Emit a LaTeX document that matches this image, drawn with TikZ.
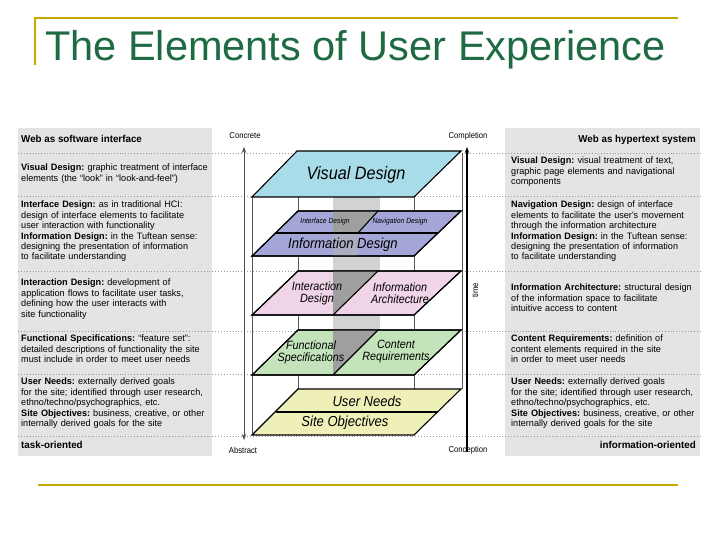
\documentclass[tikz,border=0pt]{standalone}
\usepackage{fontspec}
\setmainfont{Liberation Sans}
\newfontfamily\nar[FakeStretch=0.9]{Liberation Sans}
\newfontfamily\sidefont[FakeStretch=0.98]{Liberation Sans}
\usetikzlibrary{arrows.meta}
\frenchspacing
\definecolor{gold}{HTML}{C9A800}
\definecolor{ttl}{HTML}{1E6B43}
\definecolor{panel}{HTML}{E4E4E4}
\definecolor{vis}{HTML}{A8DCE8}
\definecolor{pur}{HTML}{A3A6D6}
\definecolor{pnk}{HTML}{F0D4E8}
\definecolor{grn}{HTML}{C3E4BA}
\definecolor{yel}{HTML}{EEF0B8}
\tikzset{
 side/.style={anchor=north west,inner sep=0pt,text width=195pt,align=left,font=\sidefont\fontsize{9.3}{10.4}\selectfont},
 plane/.style={draw=black,line width=1.1pt,line join=miter},
 lbl/.style={font=\nar\itshape\fontsize{#1}{#1}\selectfont,align=center,inner sep=0pt},
 dots/.style={draw=gray!80,dotted,line width=0.9pt},
 axis/.style={font=\nar\fontsize{8.5}{8.5}\selectfont,inner sep=0pt},
 frame/.style={draw=gray!70!black,line width=0.7pt},
 dark/.style={fill=gray!75},
 hdr/.style={inner sep=0pt,font=\sidefont\bfseries\fontsize{10}{10}\selectfont}
}
\begin{document}
\begin{tikzpicture}[x=1pt,y=-1pt]
\useasboundingbox (0,0) rectangle (720,540);
\fill[white] (0,0) rectangle (720,540);
% title and gold rules
\draw[gold,line width=2pt] (35,65) -- (35,18) -- (678,18);
\draw[gold,line width=2pt] (38,485) -- (678,485);
\node[anchor=west,inner sep=0pt,text=ttl,font=\fontsize{41.5}{41.5}\selectfont] (title) at (45,50) {The Elements of User Experience};
% panels
\fill[panel] (18,128) rectangle (212,456);
\fill[panel] (505,128) rectangle (700,456);
\foreach \y in {153,196,271,331,374,436} \draw[dots] (18,\y) -- (700,\y);
% grey band
\fill[gray!35] (333,196) rectangle (380,331);
% frame lines
\draw[frame] (298,153) -- (298,389);
\draw[frame] (462,153) -- (462,389);
\draw[frame] (252,196) -- (252,435);
\draw[frame] (414,196) -- (414,435);
% axes
\draw[gray!60!black,line width=0.8pt,{Stealth[length=6pt]}-{Stealth[length=6pt]}] (244,147) -- (244,440);
\draw[black,line width=1.2pt,-{Stealth[length=6pt]}] (467,452) -- (467,147);
\node[axis] (concrete) at (245,136) {Concrete};
\node[axis] (abstract) at (243,450) {Abstract};
\node[axis] (completion) at (468,136) {Completion};
\node[axis] (conception) at (468,450) {Conception};
\node[axis,rotate=90] (time) at (475,290) {time};
% visual design
\draw[plane,fill=vis] (252,197) -- (414,197) -- (461,151) -- (297,151) -- cycle;
\node[lbl=18] (vd) at (356,175) {Visual Design};
% purple
\draw[plane,fill=pur] (252,256) -- (414,256) -- (461,211) -- (298,211) -- cycle;
\fill[dark] (333,211) -- (378,211) -- (358,233) -- (333,233) -- cycle;
\fill[gray!60,opacity=0.6] (333,233) -- (358,233) -- (358,256) -- (333,256) -- cycle;
\draw[plane] (252,256) -- (414,256) -- (461,211) -- (298,211) -- cycle;
\draw[plane] (276,233) -- (438,233);
\draw[plane] (378,211) -- (358,233);
\node[lbl=7.5] (ifd) at (325,222) {Interface Design};
\node[lbl=7.5] (nvd) at (400,222) {Navigation Design};
\node[lbl=14.5] (infd) at (343,245) {Information Design};
% pink
\draw[plane,fill=pnk] (252,315) -- (414,315) -- (461,271) -- (298,271) -- cycle;
\fill[dark] (333,271) -- (378,271) -- (333,315) -- cycle;
\draw[plane] (252,315) -- (414,315) -- (461,271) -- (298,271) -- cycle;
\draw[plane] (378,271) -- (333,315);
\node[lbl=12] (ixd) at (317,293) {Interaction\\Design};
\node[lbl=12] (ia) at (400,293) {Information\\Architecture};
% green
\draw[plane,fill=grn] (252,375) -- (414,375) -- (461,330) -- (298,330) -- cycle;
\fill[dark] (333,330) -- (378,330) -- (333,375) -- cycle;
\draw[plane] (252,375) -- (414,375) -- (461,330) -- (298,330) -- cycle;
\draw[plane] (378,330) -- (333,375);
\node[lbl=12] (fs) at (311,352) {Functional\\Specifications};
\node[lbl=12] (cr) at (396,352) {Content\\Requirements};
% yellow
\draw[plane,fill=yel] (252,435) -- (414,435) -- (461,389) -- (298,389) -- cycle;
\draw[plane] (276,412) -- (438,412);
\node[lbl=14.5] (un) at (367,401) {User Needs};
\node[lbl=14.5] (so) at (345,423) {Site Objectives};
% left panel
\node[hdr,anchor=north west] (lh) at (21,135) {Web as software interface};
\node[side] (l1) at (21,164) {\textbf{Visual Design:} graphic treatment of interface\\elements (the “look” in “look-and-feel”)};
\node[side] (l2) at (21,201) {\textbf{Interface Design:} as in traditional HCI:\\design of interface elements to facilitate\\user interaction with functionality\\\textbf{Information Design:} in the Tuftean sense:\\designing the presentation of information\\to facilitate understanding};
\node[side] (l3) at (21,279) {\textbf{Interaction Design:} development of\\application flows to facilitate user tasks,\\defining how the user interacts with\\site functionality};
\node[side] (l4) at (21,335) {\textbf{Functional Specifications:} “feature set”:\\detailed descriptions of functionality the site\\must include in order to meet user needs};
\node[side] (l5) at (21,378) {\textbf{User Needs:} externally derived goals\\for the site; identified through user research,\\ethno/techno/psychographics, etc.\\\textbf{Site Objectives:} business, creative, or other\\internally derived goals for the site};
\node[hdr,anchor=north west] (lf) at (21,441) {task-oriented};
% right panel
\node[hdr,anchor=north east] (rh) at (696,135) {Web as hypertext system};
\node[side] (r1) at (511,157) {\textbf{Visual Design:} visual treatment of text,\\graphic page elements and navigational\\components};
\node[side] (r2) at (511,201) {\textbf{Navigation Design:} design of interface\\elements to facilitate the user's movement\\through the information architecture\\\textbf{Information Design:} in the Tuftean sense:\\designing the presentation of information\\to facilitate understanding};
\node[side] (r3) at (511,284) {\textbf{Information Architecture:} structural design\\of the information space to facilitate\\intuitive access to content};
\node[side] (r4) at (511,335) {\textbf{Content Requirements:} definition of\\content elements required in the site\\in order to meet user needs};
\node[side] (r5) at (511,378) {\textbf{User Needs:} externally derived goals\\for the site; identified through user research,\\ethno/techno/psychographics, etc.\\\textbf{Site Objectives:} business, creative, or other\\internally derived goals for the site};
\node[hdr,anchor=north east] (rf) at (696,441) {information-oriented};
\end{tikzpicture}
\end{document}
